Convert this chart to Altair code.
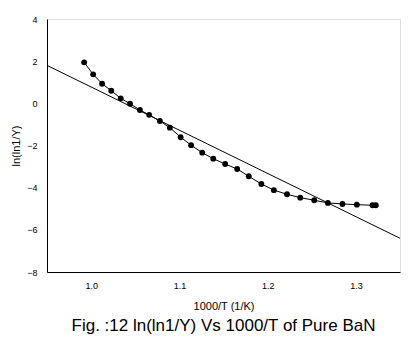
import altair as alt
import pandas as pd

# Measured data points (1000/T, ln(ln1/Y))
x_vals = [0.9921, 1.0023, 1.0124, 1.0228, 1.0336, 1.0441, 1.0553, 1.0658, 1.0779,
          1.0892, 1.1014, 1.1133, 1.1259, 1.1384, 1.1519, 1.1655, 1.1786, 1.1929,
          1.2071, 1.2220, 1.2370, 1.2528, 1.2683, 1.2848, 1.3011, 1.3188, 1.3226]
y_vals = [1.943, 1.374, 0.929, 0.597, 0.237, -0.019, -0.318, -0.545, -0.839,
          -1.156, -1.607, -1.986, -2.341, -2.626, -2.877, -3.114, -3.460, -3.825,
          -4.118, -4.313, -4.474, -4.597, -4.725, -4.773, -4.806, -4.834, -4.834]

# Linear fit line end points
fit_x = [0.95, 1.35]
fit_y = [1.80, -6.40]

x_ticks = [1.0, 1.1, 1.2, 1.3]
y_ticks = [-8, -6, -4, -2, 0, 2, 4]

df = pd.DataFrame({"x": x_vals, "y": y_vals})
fit = pd.DataFrame({"x": fit_x, "y": fit_y})

FONT = "Liberation Sans"

xscale = alt.Scale(domain=[0.95, 1.35], nice=False, zero=False)
yscale = alt.Scale(domain=[-8, 4], nice=False, zero=False)

xaxis = alt.Axis(values=x_ticks, format=".1f", title="1000/T (1/K)", grid=False,
                 ticks=False, labelPadding=9, titlePadding=10, labelFontSize=9,
                 titleFontSize=11, labelFont=FONT, titleFont=FONT,
                 titleFontWeight="normal", labelColor="black", titleColor="black",
                 domainColor="black")
yaxis = alt.Axis(values=y_ticks, format="d", title="ln(ln1/Y)", grid=False,
                 ticks=False, labelPadding=10, titlePadding=5, labelFontSize=9,
                 titleFontSize=11, labelFont=FONT, titleFont=FONT,
                 titleFontWeight="normal", labelColor="black", titleColor="black",
                 domainColor="black")

fit_line = alt.Chart(fit).mark_line(color="black", strokeWidth=1, clip=True).encode(
    x=alt.X("x:Q", scale=xscale, axis=xaxis),
    y=alt.Y("y:Q", scale=yscale, axis=yaxis),
)

data_line = alt.Chart(df).mark_line(color="black", strokeWidth=1).encode(
    x=alt.X("x:Q", scale=xscale),
    y=alt.Y("y:Q", scale=yscale),
)

points = alt.Chart(df).mark_circle(color="black", size=34, opacity=1).encode(
    x=alt.X("x:Q", scale=xscale),
    y=alt.Y("y:Q", scale=yscale),
)

chart = alt.layer(fit_line, data_line, points).properties(
    width=353,
    height=253,
    autosize=alt.AutoSizeParams(type="none"),
    padding={"left": 47, "top": 19, "right": 18, "bottom": 74},
    title=alt.TitleParams(
        text="Fig. :12 ln(ln1/Y) Vs 1000/T of Pure BaN",
        orient="bottom", anchor="middle", fontSize=17, font=FONT,
        fontWeight="normal", color="black", offset=7,
    ),
).configure_view(stroke="black", strokeWidth=1).configure(background="white")

chart.save("out.html", embed_options={"renderer": "svg", "actions": False})
